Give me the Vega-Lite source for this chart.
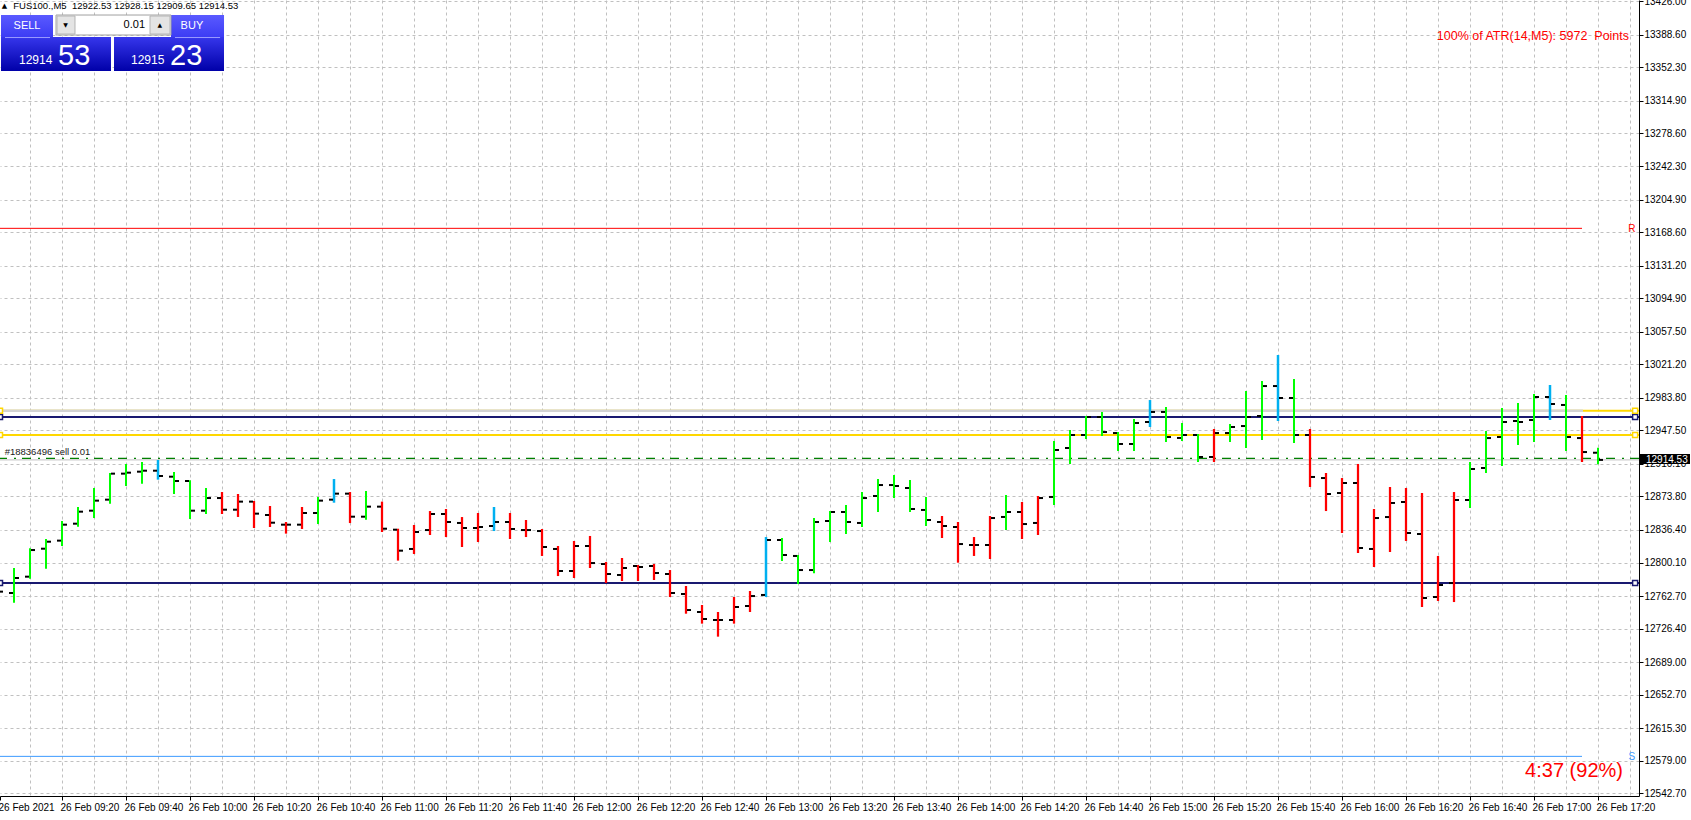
{
  "$schema": "https://vega.github.io/schema/vega-lite/v6.json",
  "width": 1639,
  "height": 796,
  "autosize": {"type": "none"},
  "padding": {"left": 0, "top": 0, "right": 52, "bottom": 24},
  "background": "white",
  "config": {"view": {"stroke": null}, "font": "Liberation Sans", "axis": {"titleOpacity": 0}},
  "datasets": {
    "bars": [
      {"minute": 0, "open": 12770.0, "high": 12776.0, "low": 12758.0, "close": 12767.6, "trend": "up"},
      {"minute": 5, "open": 12766.1, "high": 12794.0, "low": 12755.3, "close": 12782.8, "trend": "up"},
      {"minute": 10, "open": 12784.3, "high": 12815.9, "low": 12782.1, "close": 12814.0, "trend": "up"},
      {"minute": 15, "open": 12815.5, "high": 12826.3, "low": 12793.2, "close": 12823.3, "trend": "up"},
      {"minute": 20, "open": 12824.5, "high": 12846.4, "low": 12818.5, "close": 12842.3, "trend": "up"},
      {"minute": 25, "open": 12843.4, "high": 12862.0, "low": 12840.1, "close": 12856.8, "trend": "up"},
      {"minute": 30, "open": 12857.9, "high": 12883.2, "low": 12849.7, "close": 12869.1, "trend": "up"},
      {"minute": 35, "open": 12870.2, "high": 12899.9, "low": 12865.7, "close": 12899.2, "trend": "up"},
      {"minute": 40, "open": 12899.2, "high": 12910.0, "low": 12885.4, "close": 12900.3, "trend": "up"},
      {"minute": 45, "open": 12901.4, "high": 12912.2, "low": 12888.0, "close": 12902.5, "trend": "up"},
      {"minute": 50, "open": 12902.5, "high": 12914.4, "low": 12892.5, "close": 12896.6, "trend": "alert"},
      {"minute": 55, "open": 12895.8, "high": 12901.0, "low": 12876.5, "close": 12891.0, "trend": "up"},
      {"minute": 60, "open": 12891.0, "high": 12891.7, "low": 12848.6, "close": 12857.9, "trend": "up"},
      {"minute": 65, "open": 12857.9, "high": 12883.2, "low": 12854.2, "close": 12872.0, "trend": "up"},
      {"minute": 70, "open": 12872.0, "high": 12878.7, "low": 12854.2, "close": 12859.0, "trend": "down"},
      {"minute": 75, "open": 12859.0, "high": 12876.5, "low": 12850.9, "close": 12868.0, "trend": "down"},
      {"minute": 80, "open": 12868.0, "high": 12868.7, "low": 12838.6, "close": 12854.6, "trend": "down"},
      {"minute": 85, "open": 12853.1, "high": 12863.1, "low": 12839.7, "close": 12844.5, "trend": "down"},
      {"minute": 90, "open": 12842.3, "high": 12845.3, "low": 12832.3, "close": 12842.3, "trend": "down"},
      {"minute": 95, "open": 12842.3, "high": 12862.0, "low": 12837.5, "close": 12855.3, "trend": "down"},
      {"minute": 100, "open": 12855.3, "high": 12873.2, "low": 12843.0, "close": 12869.1, "trend": "up"},
      {"minute": 105, "open": 12870.2, "high": 12893.2, "low": 12866.8, "close": 12876.9, "trend": "alert"},
      {"minute": 110, "open": 12876.9, "high": 12878.7, "low": 12844.1, "close": 12851.2, "trend": "down"},
      {"minute": 115, "open": 12851.2, "high": 12879.9, "low": 12847.9, "close": 12862.4, "trend": "up"},
      {"minute": 120, "open": 12862.4, "high": 12868.0, "low": 12834.1, "close": 12837.8, "trend": "down"},
      {"minute": 125, "open": 12836.7, "high": 12837.8, "low": 12802.2, "close": 12813.3, "trend": "down"},
      {"minute": 130, "open": 12815.2, "high": 12841.9, "low": 12809.6, "close": 12834.1, "trend": "down"},
      {"minute": 135, "open": 12836.3, "high": 12857.5, "low": 12830.8, "close": 12854.2, "trend": "down"},
      {"minute": 140, "open": 12854.2, "high": 12859.8, "low": 12828.5, "close": 12845.3, "trend": "down"},
      {"minute": 145, "open": 12844.2, "high": 12850.8, "low": 12817.4, "close": 12838.6, "trend": "down"},
      {"minute": 150, "open": 12838.6, "high": 12855.3, "low": 12823.0, "close": 12839.7, "trend": "down"},
      {"minute": 155, "open": 12840.8, "high": 12862.0, "low": 12835.2, "close": 12845.3, "trend": "alert"},
      {"minute": 160, "open": 12845.3, "high": 12855.3, "low": 12826.3, "close": 12837.5, "trend": "down"},
      {"minute": 165, "open": 12836.3, "high": 12847.5, "low": 12828.5, "close": 12836.3, "trend": "down"},
      {"minute": 170, "open": 12835.2, "high": 12837.5, "low": 12807.4, "close": 12817.4, "trend": "down"},
      {"minute": 175, "open": 12815.2, "high": 12818.5, "low": 12785.0, "close": 12790.6, "trend": "down"},
      {"minute": 180, "open": 12790.6, "high": 12824.1, "low": 12782.8, "close": 12818.5, "trend": "down"},
      {"minute": 185, "open": 12818.5, "high": 12829.7, "low": 12794.0, "close": 12799.5, "trend": "down"},
      {"minute": 190, "open": 12798.4, "high": 12800.7, "low": 12777.2, "close": 12787.3, "trend": "down"},
      {"minute": 195, "open": 12786.2, "high": 12805.1, "low": 12779.5, "close": 12794.0, "trend": "down"},
      {"minute": 200, "open": 12796.2, "high": 12797.3, "low": 12779.5, "close": 12795.1, "trend": "down"},
      {"minute": 205, "open": 12796.2, "high": 12798.4, "low": 12780.6, "close": 12788.4, "trend": "down"},
      {"minute": 210, "open": 12787.3, "high": 12791.7, "low": 12761.6, "close": 12766.1, "trend": "down"},
      {"minute": 215, "open": 12765.0, "high": 12773.9, "low": 12743.0, "close": 12747.1, "trend": "down"},
      {"minute": 220, "open": 12744.9, "high": 12752.7, "low": 12731.9, "close": 12737.1, "trend": "down"},
      {"minute": 225, "open": 12736.0, "high": 12744.9, "low": 12717.4, "close": 12736.0, "trend": "down"},
      {"minute": 230, "open": 12736.0, "high": 12761.6, "low": 12731.9, "close": 12750.5, "trend": "down"},
      {"minute": 235, "open": 12751.6, "high": 12768.3, "low": 12744.9, "close": 12762.7, "trend": "down"},
      {"minute": 240, "open": 12763.9, "high": 12828.5, "low": 12761.6, "close": 12825.2, "trend": "alert"},
      {"minute": 245, "open": 12825.2, "high": 12827.4, "low": 12801.8, "close": 12808.5, "trend": "up"},
      {"minute": 250, "open": 12807.4, "high": 12808.5, "low": 12776.1, "close": 12791.7, "trend": "up"},
      {"minute": 255, "open": 12791.7, "high": 12849.7, "low": 12788.0, "close": 12845.3, "trend": "up"},
      {"minute": 260, "open": 12846.4, "high": 12857.5, "low": 12823.0, "close": 12856.4, "trend": "up"},
      {"minute": 265, "open": 12856.4, "high": 12864.2, "low": 12831.9, "close": 12845.3, "trend": "up"},
      {"minute": 270, "open": 12844.2, "high": 12878.7, "low": 12839.7, "close": 12872.0, "trend": "up"},
      {"minute": 275, "open": 12874.3, "high": 12893.2, "low": 12856.4, "close": 12886.5, "trend": "up"},
      {"minute": 280, "open": 12886.5, "high": 12897.7, "low": 12872.0, "close": 12885.4, "trend": "up"},
      {"minute": 285, "open": 12883.2, "high": 12892.1, "low": 12856.4, "close": 12859.8, "trend": "up"},
      {"minute": 290, "open": 12858.7, "high": 12873.2, "low": 12840.8, "close": 12847.5, "trend": "up"},
      {"minute": 295, "open": 12845.3, "high": 12852.0, "low": 12827.4, "close": 12840.8, "trend": "down"},
      {"minute": 300, "open": 12839.7, "high": 12845.3, "low": 12799.9, "close": 12820.7, "trend": "down"},
      {"minute": 305, "open": 12819.6, "high": 12828.5, "low": 12807.4, "close": 12819.6, "trend": "down"},
      {"minute": 310, "open": 12819.6, "high": 12852.0, "low": 12804.0, "close": 12849.7, "trend": "down"},
      {"minute": 315, "open": 12850.9, "high": 12875.4, "low": 12836.4, "close": 12856.4, "trend": "up"},
      {"minute": 320, "open": 12856.4, "high": 12867.6, "low": 12826.3, "close": 12843.0, "trend": "down"},
      {"minute": 325, "open": 12844.2, "high": 12874.3, "low": 12830.8, "close": 12872.0, "trend": "down"},
      {"minute": 330, "open": 12873.2, "high": 12935.6, "low": 12864.2, "close": 12925.6, "trend": "up"},
      {"minute": 335, "open": 12927.8, "high": 12947.9, "low": 12910.0, "close": 12942.3, "trend": "up"},
      {"minute": 340, "open": 12942.3, "high": 12963.5, "low": 12937.8, "close": 12962.4, "trend": "up"},
      {"minute": 345, "open": 12962.4, "high": 12968.0, "low": 12941.2, "close": 12945.6, "trend": "up"},
      {"minute": 350, "open": 12944.5, "high": 12945.6, "low": 12924.5, "close": 12932.3, "trend": "up"},
      {"minute": 355, "open": 12932.3, "high": 12960.2, "low": 12924.5, "close": 12955.7, "trend": "up"},
      {"minute": 360, "open": 12956.8, "high": 12981.3, "low": 12951.2, "close": 12968.0, "trend": "alert"},
      {"minute": 365, "open": 12968.0, "high": 12973.5, "low": 12934.5, "close": 12940.1, "trend": "up"},
      {"minute": 370, "open": 12939.0, "high": 12955.7, "low": 12935.6, "close": 12942.3, "trend": "up"},
      {"minute": 375, "open": 12942.3, "high": 12943.4, "low": 12912.2, "close": 12917.8, "trend": "up"},
      {"minute": 380, "open": 12917.8, "high": 12949.0, "low": 12912.2, "close": 12944.5, "trend": "down"},
      {"minute": 385, "open": 12944.5, "high": 12954.6, "low": 12934.5, "close": 12951.2, "trend": "up"},
      {"minute": 390, "open": 12952.3, "high": 12991.4, "low": 12927.8, "close": 12962.4, "trend": "up"},
      {"minute": 395, "open": 12963.5, "high": 13002.5, "low": 12936.7, "close": 12996.9, "trend": "up"},
      {"minute": 400, "open": 12996.9, "high": 13031.5, "low": 12957.9, "close": 12983.6, "trend": "alert"},
      {"minute": 405, "open": 12983.6, "high": 13004.7, "low": 12933.4, "close": 12942.3, "trend": "up"},
      {"minute": 410, "open": 12942.3, "high": 12949.0, "low": 12884.3, "close": 12895.5, "trend": "down"},
      {"minute": 415, "open": 12894.3, "high": 12899.9, "low": 12857.5, "close": 12876.5, "trend": "down"},
      {"minute": 420, "open": 12877.6, "high": 12894.3, "low": 12833.0, "close": 12888.8, "trend": "down"},
      {"minute": 425, "open": 12888.8, "high": 12910.0, "low": 12810.7, "close": 12816.3, "trend": "down"},
      {"minute": 430, "open": 12815.2, "high": 12859.8, "low": 12795.1, "close": 12849.7, "trend": "down"},
      {"minute": 435, "open": 12850.8, "high": 12884.3, "low": 12811.8, "close": 12866.5, "trend": "down"},
      {"minute": 440, "open": 12867.6, "high": 12883.2, "low": 12824.1, "close": 12833.0, "trend": "down"},
      {"minute": 445, "open": 12831.9, "high": 12877.6, "low": 12750.5, "close": 12760.5, "trend": "down"},
      {"minute": 450, "open": 12761.6, "high": 12807.4, "low": 12757.2, "close": 12775.0, "trend": "down"},
      {"minute": 455, "open": 12777.2, "high": 12878.7, "low": 12756.0, "close": 12869.8, "trend": "down"},
      {"minute": 460, "open": 12869.8, "high": 12912.2, "low": 12860.9, "close": 12904.4, "trend": "up"},
      {"minute": 465, "open": 12905.5, "high": 12946.8, "low": 12899.9, "close": 12938.9, "trend": "up"},
      {"minute": 470, "open": 12940.1, "high": 12972.4, "low": 12907.7, "close": 12956.8, "trend": "up"},
      {"minute": 475, "open": 12957.9, "high": 12978.0, "low": 12931.2, "close": 12956.8, "trend": "up"},
      {"minute": 480, "open": 12959.0, "high": 12988.0, "low": 12934.5, "close": 12984.7, "trend": "up"},
      {"minute": 485, "open": 12984.7, "high": 12998.1, "low": 12959.0, "close": 12976.9, "trend": "alert"},
      {"minute": 490, "open": 12975.8, "high": 12986.9, "low": 12924.5, "close": 12940.1, "trend": "up"},
      {"minute": 495, "open": 12938.9, "high": 12963.5, "low": 12912.2, "close": 12923.3, "trend": "down"},
      {"minute": 500, "open": 12922.53, "high": 12928.15, "low": 12909.65, "close": 12914.53, "trend": "up"}
    ]
  },
  "layer": [
    {
      "data": {"values": [{}]},
      "mark": {"type": "rule", "color": "#c0c0c0", "strokeWidth": 1},
      "encoding": {"y": {"datum": 12914.53, "type": "quantitative"}}
    },
    {
      "data": {"values": [{}]},
      "mark": {"type": "rule", "color": "#ff0000", "strokeWidth": 1},
      "encoding": {
        "x": {"datum": 0.625, "type": "quantitative"},
        "x2": {"datum": 495},
        "y": {"datum": 13172.8, "type": "quantitative"}
      }
    },
    {
      "data": {"values": [{}]},
      "mark": {"type": "rule", "color": "#3d9bff", "strokeWidth": 1},
      "encoding": {
        "x": {"datum": 0.625, "type": "quantitative"},
        "x2": {"datum": 495},
        "y": {"datum": 12583.9, "type": "quantitative"}
      }
    },
    {
      "data": {"values": [{}]},
      "mark": {"type": "rule", "color": "#ffd700", "strokeWidth": 2},
      "encoding": {"y": {"datum": 12969.4, "type": "quantitative"}}
    },
    {
      "data": {"values": [{}]},
      "mark": {"type": "rule", "color": "#d3d3d3", "strokeWidth": 2.5},
      "encoding": {
        "x": {"datum": 0.625, "type": "quantitative"},
        "x2": {"datum": 495.3},
        "y": {"datum": 12969.4, "type": "quantitative"}
      }
    },
    {
      "data": {"values": [{}]},
      "mark": {"type": "rule", "color": "#191970", "strokeWidth": 2},
      "encoding": {"y": {"datum": 12962.4, "type": "quantitative"}}
    },
    {
      "data": {"values": [{}]},
      "mark": {"type": "rule", "color": "#ffd700", "strokeWidth": 2},
      "encoding": {"y": {"datum": 12942.3, "type": "quantitative"}}
    },
    {
      "data": {"values": [{}]},
      "mark": {"type": "rule", "color": "#008000", "strokeWidth": 1.3, "strokeDash": [9, 6, 2, 7]},
      "encoding": {"y": {"datum": 12916.3, "type": "quantitative"}}
    },
    {
      "data": {"values": [{}]},
      "mark": {"type": "rule", "color": "#191970", "strokeWidth": 2},
      "encoding": {"y": {"datum": 12777.2, "type": "quantitative"}}
    },
    {
      "data": {"name": "bars"},
      "mark": {"type": "rule", "strokeCap": "butt"},
      "encoding": {
        "x": {
          "field": "minute", "type": "quantitative",
          "scale": {"domain": [0.625, 512.8125], "nice": false, "zero": false},
          "axis": {
            "orient": "bottom", "title": null, "grid": true, "tickCount": 80,
            "values": [0.625, 10, 20, 30, 40, 50, 60, 70, 80, 90, 100, 110, 120, 130, 140, 150, 160, 170, 180, 190, 200, 210, 220, 230, 240, 250, 260, 270, 280, 290, 300, 310, 320, 330, 340, 350, 360, 370, 380, 390, 400, 410, 420, 430, 440, 450, 460, 470, 480, 490, 500, 510],
            "labelExpr": "datum.value < 1 ? '26 Feb 2021' : (datum.value % 20 == 0 ? '26 Feb ' + format(floor((540 + datum.value) / 60), '02d') + ':' + format((540 + datum.value) % 60, '02d') : '')",
            "gridColor": "#c0c0c0", "gridDash": [3, 3],
            "gridOpacity": {"condition": {"test": "datum.value < 1", "value": 0}, "value": 1},
            "tickOpacity": {"condition": {"test": "datum.value < 1 || datum.value % 20 == 0", "value": 1}, "value": 0},
            "tickSize": 4, "tickColor": "black", "domainColor": "black",
            "labelAlign": "left", "labelBaseline": "top", "labelPadding": 2, "labelOffset": -2,
            "labelFontSize": 10, "labelColor": "black",
            "labelFlush": false, "labelOverlap": false, "labelBound": false
          }
        },
        "y": {
          "field": "low", "type": "quantitative",
          "scale": {"domain": [12539.69, 13427.45], "nice": false, "zero": false},
          "axis": {
            "orient": "right", "title": null, "tickCount": 60,
            "values": [12542.7, 12579, 12615.3, 12652.7, 12689, 12726.4, 12762.7, 12800.1, 12836.4, 12873.8, 12910.1, 12947.5, 12983.8, 13021.2, 13057.5, 13094.9, 13131.2, 13168.6, 13204.9, 13242.3, 13278.6, 13314.9, 13352.3, 13388.6, 13426],
            "format": ".2f", "grid": true, "gridColor": "#c0c0c0", "gridDash": [3, 3],
            "tickSize": 4, "tickColor": "black", "domainColor": "black",
            "labelPadding": 1, "labelFontSize": 10, "labelColor": "black",
            "labelFlush": false, "labelOverlap": false, "labelBound": false
          }
        },
        "y2": {"field": "high"},
        "color": {
          "field": "trend", "type": "nominal", "legend": null,
          "scale": {"domain": ["up", "down", "alert"], "range": ["#00ff00", "#ff0000", "#00b0f0"]}
        },
        "strokeWidth": {
          "field": "trend", "type": "nominal", "legend": null,
          "scale": {"domain": ["up", "down", "alert"], "range": [2, 2.5, 3]}
        }
      }
    },
    {
      "data": {"name": "bars"},
      "mark": {"type": "tick", "orient": "horizontal", "size": 4, "thickness": 2, "color": "black", "xOffset": -3, "opacity": 1},
      "encoding": {
        "x": {"field": "minute", "type": "quantitative"},
        "y": {"field": "open", "type": "quantitative"}
      }
    },
    {
      "data": {"name": "bars"},
      "mark": {"type": "tick", "orient": "horizontal", "size": 4, "thickness": 2, "color": "black", "xOffset": 3, "opacity": 1},
      "encoding": {
        "x": {"field": "minute", "type": "quantitative"},
        "y": {"field": "close", "type": "quantitative"}
      }
    },
    {
      "data": {"values": [{"level": 12962.4}, {"level": 12777.2}]},
      "mark": {"type": "point", "shape": "square", "size": 25, "filled": false, "fill": "white", "fillOpacity": 1, "stroke": "#191970", "strokeWidth": 1.5, "opacity": 1},
      "encoding": {
        "x": {"datum": 0.625, "type": "quantitative"},
        "y": {"field": "level", "type": "quantitative"}
      }
    },
    {
      "data": {"values": [{"level": 12962.4}, {"level": 12777.2}]},
      "mark": {"type": "point", "shape": "square", "size": 25, "filled": false, "fill": "white", "fillOpacity": 1, "stroke": "#191970", "strokeWidth": 1.5, "opacity": 1},
      "encoding": {
        "x": {"datum": 511.6, "type": "quantitative"},
        "y": {"field": "level", "type": "quantitative"}
      }
    },
    {
      "data": {"values": [{"level": 12969.4}, {"level": 12942.3}]},
      "mark": {"type": "point", "shape": "square", "size": 25, "filled": false, "fill": "white", "fillOpacity": 1, "stroke": "#ffd700", "strokeWidth": 1.5, "opacity": 1},
      "encoding": {
        "x": {"datum": 0.625, "type": "quantitative"},
        "y": {"field": "level", "type": "quantitative"}
      }
    },
    {
      "data": {"values": [{"level": 12969.4}, {"level": 12942.3}]},
      "mark": {"type": "point", "shape": "square", "size": 25, "filled": false, "fill": "white", "fillOpacity": 1, "stroke": "#ffd700", "strokeWidth": 1.5, "opacity": 1},
      "encoding": {
        "x": {"datum": 511.6, "type": "quantitative"},
        "y": {"field": "level", "type": "quantitative"}
      }
    },
    {
      "data": {"values": [{}]},
      "mark": {"type": "text", "text": "R", "color": "#ff0000", "fontSize": 10, "align": "center", "baseline": "middle"},
      "encoding": {
        "x": {"datum": 510.6, "type": "quantitative"},
        "y": {"datum": 13172.1, "type": "quantitative"}
      }
    },
    {
      "data": {"values": [{}]},
      "mark": {"type": "text", "text": "S", "color": "#3d9bff", "fontSize": 10, "align": "center", "baseline": "middle"},
      "encoding": {
        "x": {"datum": 510.6, "type": "quantitative"},
        "y": {"datum": 12583.2, "type": "quantitative"}
      }
    },
    {
      "data": {"values": [{}]},
      "mark": {"type": "text", "text": "#18836496 sell 0.01", "color": "#202020", "fontSize": 9.5, "align": "left", "baseline": "middle"},
      "encoding": {
        "x": {"datum": 2.09, "type": "quantitative"},
        "y": {"datum": 12923.0, "type": "quantitative"}
      }
    },
    {
      "data": {"values": [{}]},
      "mark": {"type": "text", "text": "100% of ATR(14,M5): 5972\u00a0 Points", "color": "#ff0000", "fontSize": 12.5, "align": "right", "baseline": "middle"},
      "encoding": {
        "x": {"datum": 509.7, "type": "quantitative"},
        "y": {"datum": 13387.3, "type": "quantitative"}
      }
    },
    {
      "data": {"values": [{}]},
      "mark": {"type": "text", "text": "4:37 (92%)", "color": "#ff0000", "fontSize": 20, "align": "right", "baseline": "middle"},
      "encoding": {
        "x": {"datum": 507.8, "type": "quantitative"},
        "y": {"datum": 12567.9, "type": "quantitative"}
      }
    },
    {
      "data": {"values": [{}]},
      "mark": {"type": "rect", "color": "black"},
      "encoding": {
        "x": {"datum": 513.1, "type": "quantitative"},
        "x2": {"datum": 528.75},
        "y": {"datum": 12910.0, "type": "quantitative"},
        "y2": {"datum": 12921.1}
      }
    },
    {
      "data": {"values": [{}]},
      "mark": {"type": "text", "text": "12914.53", "color": "white", "fontSize": 10, "align": "left", "baseline": "middle"},
      "encoding": {
        "x": {"datum": 515.0, "type": "quantitative"},
        "y": {"datum": 12914.53, "type": "quantitative"}
      }
    },
    {
      "data": {"values": [{}]},
      "mark": {"type": "text", "text": "\u25b2", "font": "DejaVu Sans", "color": "black", "fontSize": 7, "align": "center", "baseline": "middle"},
      "encoding": {
        "x": {"datum": 2.03, "type": "quantitative"},
        "y": {"datum": 13421.1, "type": "quantitative"}
      }
    },
    {
      "data": {"values": [{}]},
      "mark": {"type": "text", "text": "FUS100.,M5\u00a0 12922.53 12928.15 12909.65 12914.53", "color": "black", "fontSize": 9.5, "align": "left", "baseline": "middle"},
      "encoding": {
        "x": {"datum": 4.78, "type": "quantitative"},
        "y": {"datum": 13421.1, "type": "quantitative"}
      }
    },
    {
      "data": {"values": [{"x1": 0.94, "x2": 17.19}, {"x1": 54.06, "x2": 70.63}]},
      "mark": {"type": "rect", "fill": {"gradient": "linear", "x1": 0, "y1": 0, "x2": 0, "y2": 1, "stops": [{"offset": 0, "color": "#5a5aff"}, {"offset": 1, "color": "#3c3cf4"}]}},
      "encoding": {
        "x": {"field": "x1", "type": "quantitative"},
        "x2": {"field": "x2"},
        "y": {"datum": 13386.2, "type": "quantitative"},
        "y2": {"datum": 13410.7}
      }
    },
    {
      "data": {"values": [{"x1": 0.94, "x2": 35.31}, {"x1": 36.25, "x2": 70.63}]},
      "mark": {"type": "rect", "fill": {"gradient": "linear", "x1": 0, "y1": 0, "x2": 0, "y2": 1, "stops": [{"offset": 0, "color": "#3636ec"}, {"offset": 1, "color": "#0000a8"}]}},
      "encoding": {
        "x": {"field": "x1", "type": "quantitative"},
        "x2": {"field": "x2"},
        "y": {"datum": 13348.3, "type": "quantitative"},
        "y2": {"datum": 13386.2}
      }
    },
    {
      "data": {"values": [{}]},
      "mark": {"type": "rect", "fill": "white", "stroke": "#a0a0a0", "strokeWidth": 1},
      "encoding": {
        "x": {"datum": 18.13, "type": "quantitative"},
        "x2": {"datum": 54.06},
        "y": {"datum": 13388.4, "type": "quantitative"},
        "y2": {"datum": 13410.7}
      }
    },
    {
      "data": {"values": [{"x1": 18.44, "x2": 24.06}, {"x1": 47.5, "x2": 53.75}]},
      "mark": {"type": "rect", "fill": "#e4e4e4", "stroke": "#b4b4b4", "strokeWidth": 1},
      "encoding": {
        "x": {"field": "x1", "type": "quantitative"},
        "x2": {"field": "x2"},
        "y": {"datum": 13389.5, "type": "quantitative"},
        "y2": {"datum": 13409.6}
      }
    },
    {
      "data": {"values": [{"x1": 2.19, "x2": 16.25}, {"x1": 55.3, "x2": 69.4}]},
      "mark": {"type": "rule", "color": "#9a9aff", "strokeWidth": 1},
      "encoding": {
        "x": {"field": "x1", "type": "quantitative"},
        "x2": {"field": "x2"},
        "y": {"datum": 13385.6, "type": "quantitative"}
      }
    },
    {
      "data": {"values": [{"label": "SELL", "at": 9.06}, {"label": "BUY", "at": 60.6}]},
      "mark": {"type": "text", "color": "white", "fontSize": 11, "align": "center", "baseline": "middle"},
      "encoding": {
        "x": {"field": "at", "type": "quantitative"},
        "y": {"datum": 13399.0, "type": "quantitative"},
        "text": {"field": "label"}
      }
    },
    {
      "data": {"values": [{"glyph": "\u25bc", "at": 21.1}, {"glyph": "\u25b2", "at": 50.6}]},
      "mark": {"type": "text", "font": "DejaVu Sans", "color": "black", "fontSize": 6, "align": "center", "baseline": "middle"},
      "encoding": {
        "x": {"field": "at", "type": "quantitative"},
        "y": {"datum": 13399.6, "type": "quantitative"},
        "text": {"field": "glyph"}
      }
    },
    {
      "data": {"values": [{}]},
      "mark": {"type": "text", "text": "0.01", "color": "black", "fontSize": 11, "align": "right", "baseline": "middle"},
      "encoding": {
        "x": {"datum": 45.94, "type": "quantitative"},
        "y": {"datum": 13399.6, "type": "quantitative"}
      }
    },
    {
      "data": {"values": [{"label": "12914", "at": 6.56}, {"label": "12915", "at": 41.56}]},
      "mark": {"type": "text", "color": "white", "fontSize": 12, "align": "left", "baseline": "alphabetic"},
      "encoding": {
        "x": {"field": "at", "type": "quantitative"},
        "y": {"datum": 13356.1, "type": "quantitative"},
        "text": {"field": "label"}
      }
    },
    {
      "data": {"values": [{"label": "53", "at": 18.75}, {"label": "23", "at": 53.75}]},
      "mark": {"type": "text", "color": "white", "fontSize": 29, "align": "left", "baseline": "alphabetic"},
      "encoding": {
        "x": {"field": "at", "type": "quantitative"},
        "y": {"datum": 13354.9, "type": "quantitative"},
        "text": {"field": "label"}
      }
    }
  ]
}
